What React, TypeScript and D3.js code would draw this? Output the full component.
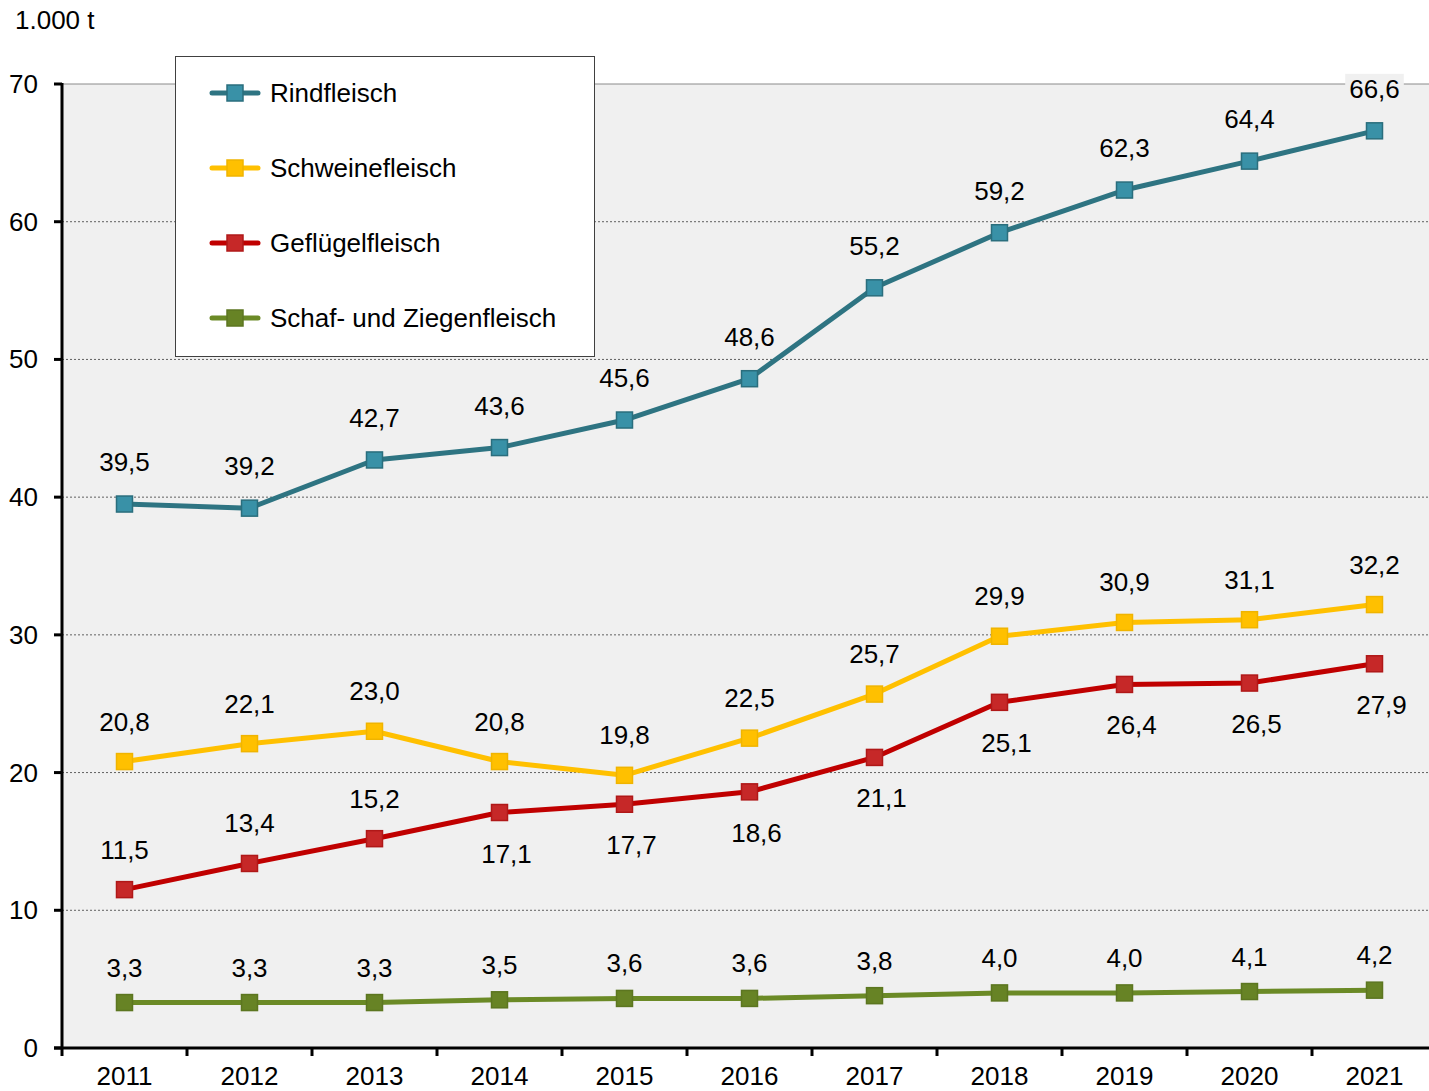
import * as d3 from "d3";

const years = ["2011", "2012", "2013", "2014", "2015", "2016", "2017", "2018", "2019", "2020", "2021"];
const rindfleisch = [39.5, 39.2, 42.7, 43.6, 45.6, 48.6, 55.2, 59.2, 62.3, 64.4, 66.6];
const schweinefleisch = [20.8, 22.1, 23.0, 20.8, 19.8, 22.5, 25.7, 29.9, 30.9, 31.1, 32.2];
const gefluegelfleisch = [11.5, 13.4, 15.2, 17.1, 17.7, 18.6, 21.1, 25.1, 26.4, 26.5, 27.9];
const schafZiegenfleisch = [3.3, 3.3, 3.3, 3.5, 3.6, 3.6, 3.8, 4.0, 4.0, 4.1, 4.2];
const seriesNames = ["Rindfleisch", "Schweinefleisch", "Geflügelfleisch", "Schaf- und Ziegenfleisch"];
// which side of the marker each value label sits
const gefluegelSides = ["above", "above", "above", "below", "below", "below", "below", "below", "below", "below", "below"];
const yTicks = [0, 10, 20, 30, 40, 50, 60, 70];

const allAbove = years.map(() => "above");
const series = [
  { name: seriesNames[0], values: rindfleisch, line: "#2e7482", fill: "#3991a7", stroke: "#2a6e7d", sides: allAbove, up: 42 },
  { name: seriesNames[1], values: schweinefleisch, line: "#ffc000", fill: "#ffc000", stroke: "#f0b400", sides: allAbove, up: 40 },
  { name: seriesNames[2], values: gefluegelfleisch, line: "#c00000", fill: "#c62828", stroke: "#b01818", sides: gefluegelSides, up: 40 },
  { name: seriesNames[3], values: schafZiegenfleisch, line: "#6b8a26", fill: "#678325", stroke: "#5c7620", sides: allAbove, up: 35 },
];

const W = 1429;
const H = 1091;
const left = 62;
const top = 84;
const bottom = 1048;
const fs = 26;
const font = "'Liberation Sans', Arial, sans-serif";

const fmt = (v: number) => v.toFixed(1).replace(".", ",");
const textWidth = (s: string) =>
  s.split("").reduce((w, c) => w + (c === "," ? 0.278 : 0.556) * fs, 0);

export default function App() {
  const x = d3.scaleBand<string>().domain(years).range([left, left + 125 * years.length]);
  const cx = (yr: string) => (x(yr) ?? 0) + x.bandwidth() / 2;
  const y = d3.scaleLinear().domain([0, 70]).range([bottom, top]);
  const line = d3
    .line<number>()
    .x((_, i) => cx(years[i]))
    .y((d) => y(d));

  return (
    <svg width={W} height={H} style={{ position: "absolute", left: 0, top: 0, background: "#fff" }} fontFamily={font}>
      <rect x={left} y={top} width={W - left} height={bottom - top} fill="#f0f0f0" />
      {yTicks.map((t) =>
        t === 0 ? null : (
          <line
            key={t}
            x1={left}
            x2={W}
            y1={y(t)}
            y2={y(t)}
            stroke={t === 70 ? "#8a8a8a" : "#606060"}
            strokeWidth={1}
            strokeDasharray={t === 70 ? undefined : "2,2"}
          />
        )
      )}
      {series.map((s) => (
        <path key={s.name} d={line(s.values) ?? ""} fill="none" stroke={s.line} strokeWidth={5} strokeLinejoin="round" />
      ))}
      {series.map((s) =>
        s.values.map((v, i) => (
          <rect
            key={s.name + i}
            x={cx(years[i]) - 8}
            y={y(v) - 8}
            width={16}
            height={16}
            fill={s.fill}
            stroke={s.stroke}
            strokeWidth={1.5}
          />
        ))
      )}
      {series.map((s) =>
        s.values.map((v, i) => {
          const label = fmt(v);
          const below = s.sides[i] === "below";
          const lx = cx(years[i]) + (below ? 7 : 0);
          const ly = y(v) + (below ? 41 : -s.up);
          const w = textWidth(label) + 8;
          return (
            <g key={"l" + s.name + i}>
              <rect x={lx - w / 2} y={ly - 15} width={w} height={30} fill="#f0f0f0" />
              <text x={lx} y={ly} textAnchor="middle" dominantBaseline="central" fontSize={fs} fill="#000">
                {label}
              </text>
            </g>
          );
        })
      )}
      {/* axes */}
      <line x1={left} x2={left} y1={top - 1} y2={bottom + 1} stroke="#000" strokeWidth={3} />
      <line x1={left - 8} x2={W} y1={bottom} y2={bottom} stroke="#000" strokeWidth={3} />
      {yTicks.map((t) => (
        <g key={"yt" + t}>
          <line x1={left - 8} x2={left} y1={y(t)} y2={y(t)} stroke="#000" strokeWidth={3} />
          <text x={38} y={y(t)} textAnchor="end" dominantBaseline="central" fontSize={fs} fill="#000">
            {t}
          </text>
        </g>
      ))}
      {years.map((yr) => (
        <g key={"xt" + yr}>
          <line x1={x(yr) ?? 0} x2={x(yr) ?? 0} y1={bottom} y2={bottom + 8} stroke="#000" strokeWidth={3} />
          <text x={cx(yr)} y={1085} textAnchor="middle" fontSize={fs} fill="#000">
            {yr}
          </text>
        </g>
      ))}
      <text x={15} y={29} fontSize={fs} fill="#000">
        1.000 t
      </text>
      {/* legend */}
      <rect x={175.5} y={56.5} width={419} height={300} fill="#fff" stroke="#404040" strokeWidth={1} />
      {series.map((s, i) => {
        const ly = 93 + i * 75;
        return (
          <g key={"lg" + s.name}>
            <line x1={212} x2={258} y1={ly} y2={ly} stroke={s.line} strokeWidth={5} strokeLinecap="round" />
            <rect x={227} y={ly - 8} width={16} height={16} fill={s.fill} stroke={s.stroke} strokeWidth={1.5} />
            <text x={270} y={ly} dominantBaseline="central" fontSize={fs} fill="#000">
              {s.name}
            </text>
          </g>
        );
      })}
    </svg>
  );
}
